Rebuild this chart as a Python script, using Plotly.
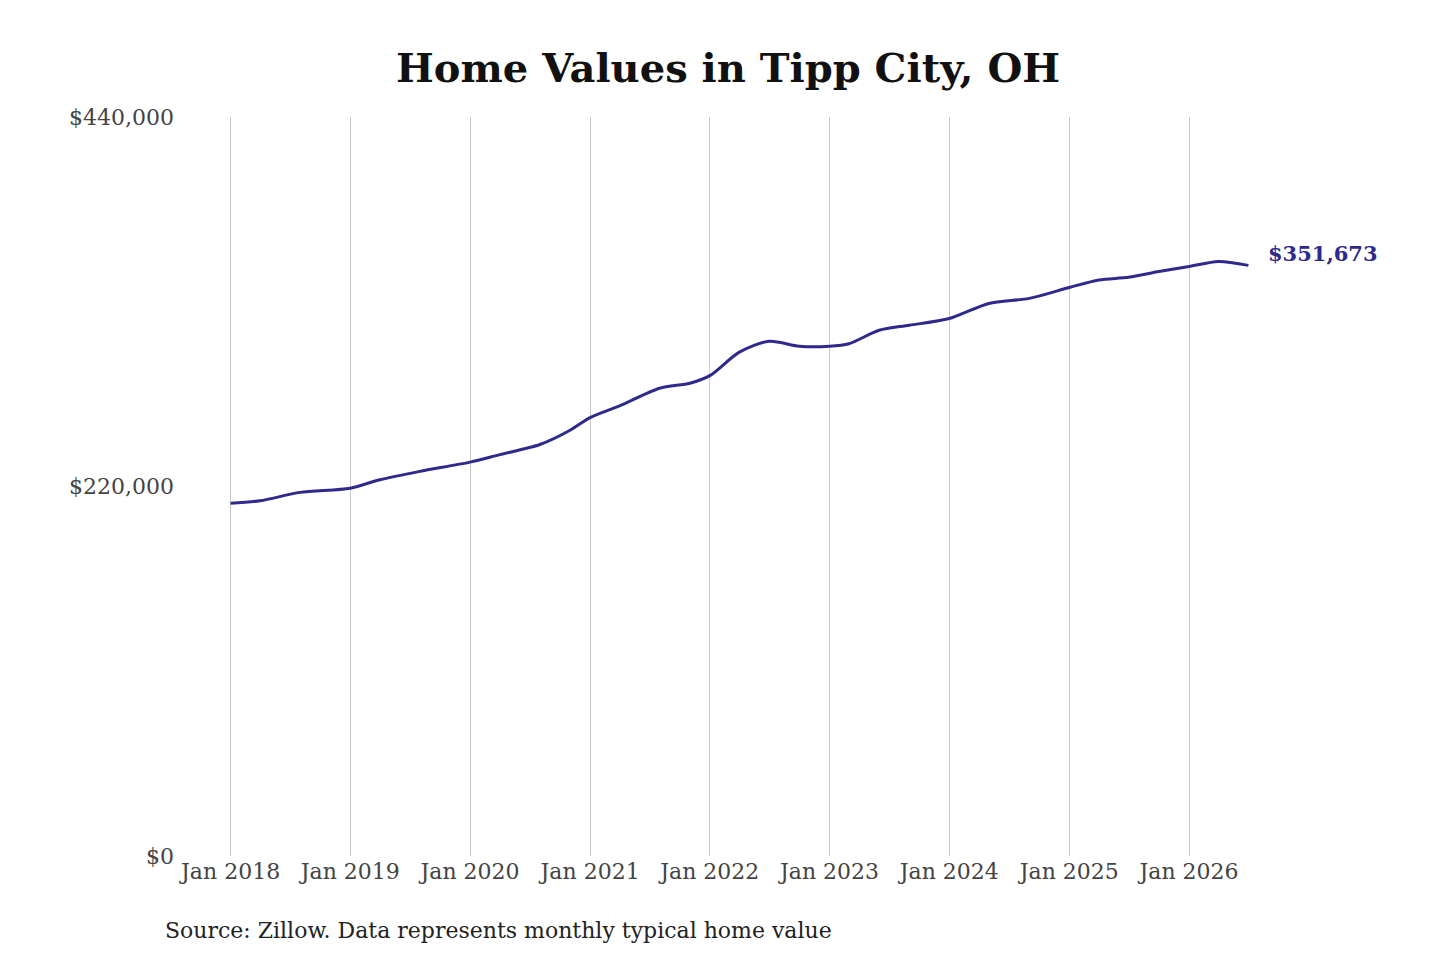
import plotly.graph_objects as go

dates = ["2018-01-01", "2018-04-01", "2018-08-01", "2019-01-01", "2019-04-01", "2019-08-01",
         "2020-01-01", "2020-04-01", "2020-08-01", "2020-11-01", "2021-01-01", "2021-04-01",
         "2021-08-01", "2021-11-01", "2022-01-01", "2022-04-01", "2022-07-01", "2022-10-01",
         "2023-01-01", "2023-03-01", "2023-06-01", "2023-09-01", "2024-01-01", "2024-05-01",
         "2024-09-01", "2025-01-01", "2025-04-01", "2025-07-01", "2025-10-01", "2026-01-01",
         "2026-04-01", "2026-07-01"]
values = [210000, 211500, 216500, 219000, 224000, 229000,
          234500, 239000, 245000, 253500, 261000, 268000,
          278500, 281500, 286000, 300000, 306500, 303500,
          303500, 305000, 313000, 316000, 320000, 329000,
          332000, 338500, 343000, 344600, 348000, 351000,
          354000, 351673]
tick_vals = ["2018-01-01", "2019-01-01", "2020-01-01", "2021-01-01", "2022-01-01",
             "2023-01-01", "2024-01-01", "2025-01-01", "2026-01-01"]
tick_text = ["Jan " + d[:4] for d in tick_vals]
y_ticks = [0, 220000, 440000]

font = "DejaVu Serif"

fig = go.Figure(go.Scatter(
    x=dates, y=values, mode="lines",
    line=dict(color="#2e2a8c", width=3, shape="spline", smoothing=0.8),
    hoverinfo="x+y"
))

fig.add_annotation(x=dates[-1], y=values[-1], text="<b>$351,673</b>", showarrow=False,
                   xanchor="left", xshift=18, yshift=12,
                   font=dict(family=font, size=21, color="#2e2a8c"))
fig.add_annotation(x=0, y=0, xref="paper", yref="paper", xanchor="left", yanchor="top",
                   text="Source: Zillow. Data represents monthly typical home value",
                   showarrow=False, xshift=-22, yshift=-60,
                   font=dict(family=font, size=22, color="#222"))

fig.update_layout(
    width=1440, height=960,
    paper_bgcolor="white", plot_bgcolor="white",
    margin=dict(l=177, r=195, t=109, b=112),
    title=dict(text="<b>Home Values in Tipp City, OH</b>", x=0.5, xanchor="center",
               y=0.938, yanchor="middle", font=dict(family=font, size=40, color="#111")),
    showlegend=False,
    xaxis=dict(range=["2017-08-15", "2026-07-15"], tickvals=tick_vals, ticktext=tick_text,
               showgrid=True, gridcolor="#c8c8c8", gridwidth=1, zeroline=False,
               showline=False, ticks="", tickfont=dict(family=font, size=22, color="#444")),
    yaxis=dict(range=[0, 440000], tickvals=y_ticks,
               ticktext=["$" + format(v, ",") for v in y_ticks],
               showgrid=False, zeroline=False, showline=False, ticks="",
               tickfont=dict(family=font, size=22, color="#444"), ticklabelstandoff=10),
)

fig.write_html("out.html")
